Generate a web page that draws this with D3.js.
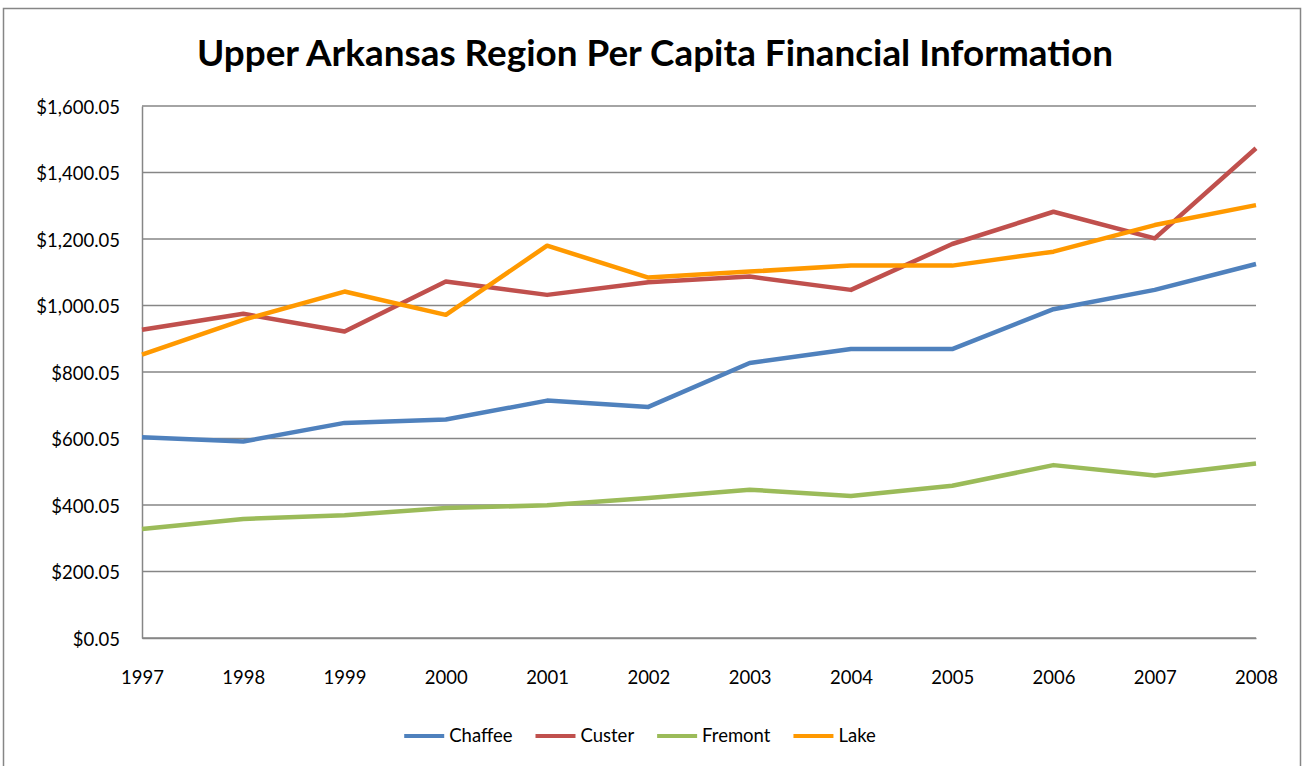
<!DOCTYPE html>
<html>
<head>
<meta charset="utf-8">
<script src="https://cdn.jsdelivr.net/npm/d3@7"></script>
<style>
  html, body { margin: 0; padding: 0; background: #fff; }
  svg { display: block; }
  text { font-family: Lato, "Open Sans", "DejaVu Sans", sans-serif; fill: #000; }
</style>
</head>
<body>
<svg id="chart" width="1304" height="766"></svg>
<script>
// Per capita financial figures, 1997–2008
const years = [1997, 1998, 1999, 2000, 2001, 2002, 2003, 2004, 2005, 2006, 2007, 2008];
const chaffee = [604, 591, 647, 657, 714, 695, 827, 869, 869, 989, 1047, 1125];
const custer  = [927, 975, 922, 1072, 1032, 1070, 1087, 1047, 1185, 1282, 1202, 1473];
const fremont = [328, 358, 369, 391, 399, 421, 446, 427, 458, 520, 489, 525];
const lake    = [852, 957, 1042, 972, 1180, 1084, 1102, 1120, 1120, 1162, 1242, 1302];
const seriesNames = ["Chaffee", "Custer", "Fremont", "Lake"];
const seriesColors = ["#4F81BD", "#C0504D", "#9BBB59", "#FF9900"];
const yTicks = [0.05, 200.05, 400.05, 600.05, 800.05, 1000.05, 1200.05, 1400.05, 1600.05];
const titleText = "Upper Arkansas Region Per Capita Financial Information";

const series = [chaffee, custer, fremont, lake].map((vals, i) => ({
  name: seriesNames[i], color: seriesColors[i],
  points: vals.map((v, j) => ({ year: years[j], value: v }))
}));

const svg = d3.select("#chart");
const plot = { left: 142, right: 1256, top: 106, bottom: 638 };
const labelSize = "18.5px";

// outer chart frame
svg.append("rect")
  .attr("x", 3.5).attr("y", 8.5).attr("width", 1297).attr("height", 770)
  .attr("fill", "#fff").attr("stroke", "#868686").attr("stroke-width", 1.5);

const x = d3.scalePoint().domain(years).range([plot.left, plot.right]);
const y = d3.scaleLinear().domain([0.05, 1600.05]).range([plot.bottom, plot.top]);

// horizontal gridlines
svg.append("g").selectAll("line").data(yTicks).join("line")
  .attr("x1", plot.left).attr("x2", plot.right)
  .attr("y1", d => y(d)).attr("y2", d => y(d))
  .attr("stroke", "#868686").attr("stroke-width", 1.5);

// y axis
const fmt = d3.format("$,.2f");
const yAxis = svg.append("g").attr("transform", `translate(${plot.left},0)`)
  .call(d3.axisLeft(y).tickValues(yTicks).tickFormat(fmt).tickSize(0).tickPadding(22));
yAxis.select(".domain").attr("stroke", "#868686").attr("stroke-width", 1.5);
yAxis.selectAll("text").style("font-size", labelSize).attr("dy", "0.4em");

// x axis
const xAxis = svg.append("g").attr("transform", `translate(0,${plot.bottom})`)
  .call(d3.axisBottom(x).tickFormat(d3.format("d")).tickSize(0).tickPadding(33));
xAxis.select(".domain").attr("stroke", "#868686").attr("stroke-width", 1.5);
xAxis.selectAll("text").style("font-size", labelSize);

// series lines
const line = d3.line().x(d => x(d.year)).y(d => y(d.value));
svg.append("g").selectAll("path").data(series).join("path")
  .attr("d", d => line(d.points))
  .attr("fill", "none")
  .attr("stroke", d => d.color)
  .attr("stroke-width", 4.5)
  .attr("stroke-linejoin", "round");

// title, fitted to its width
const title = svg.append("text")
  .attr("x", 655).attr("y", 66)
  .attr("text-anchor", "middle")
  .style("font-size", "38px").style("font-weight", "bold")
  .text(titleText);
const tw = title.node().getComputedTextLength();
title.style("font-size", (38 * 916 / tw).toFixed(2) + "px");

// legend
const legend = svg.append("g");
let cx = 0;
series.forEach(s => {
  const g = legend.append("g").attr("transform", `translate(${cx},0)`);
  g.append("line").attr("x1", 0).attr("x2", 40).attr("y1", 0).attr("y2", 0)
    .attr("stroke", s.color).attr("stroke-width", 4);
  const t = g.append("text").attr("x", 45).attr("y", 0).attr("dy", "0.35em")
    .style("font-size", labelSize).text(s.name);
  cx += 45 + t.node().getComputedTextLength() + 23;
});
const total = cx - 23;
legend.attr("transform", `translate(${640 - total / 2},736)`);
</script>
</body>
</html>
